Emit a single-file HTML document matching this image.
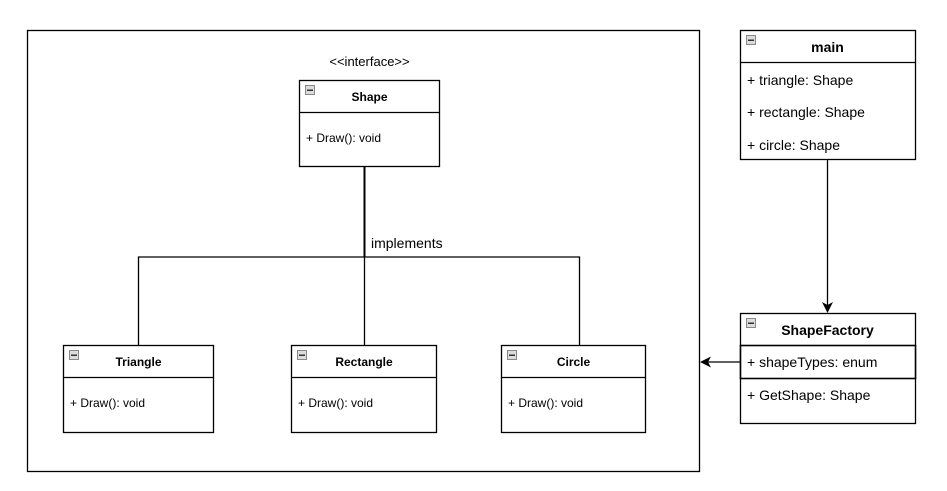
<!DOCTYPE html>
<html><head><meta charset="utf-8"><style>
html,body{margin:0;padding:0;background:#fff;}
svg{display:block;font-family:"Liberation Sans",Arial,sans-serif;}
</style></head><body>
<svg width="947" height="491" viewBox="0 0 947 491" xmlns="http://www.w3.org/2000/svg">
<defs>
<g id="ic"><rect x="0.5" y="0.5" width="9" height="9" fill="#dcdcdc" stroke="#888" stroke-width="1"/><rect x="2" y="4.5" width="6" height="1.5" fill="#333"/></g>
</defs>
<rect x="27.5" y="30.5" width="672" height="441" fill="#fff" stroke="#000" stroke-width="1.3"/>
<!-- connectors -->
<g stroke="#000" fill="none">
<line x1="364.5" y1="166" x2="364.5" y2="257" stroke-width="2"/>
<polyline points="138.5,345 138.5,257 579.5,257 579.5,345" stroke-width="1.3"/>
<line x1="364.5" y1="257" x2="364.5" y2="345" stroke-width="1.3"/>
<line x1="827.5" y1="159" x2="827.5" y2="305" stroke-width="1.3"/>
<line x1="740" y1="362" x2="708" y2="362" stroke-width="1.3"/>
</g>
<path d="M822,302 L827.5,313 L833,302 L827.5,305 Z" fill="#000"/>
<path d="M711,356.5 L700,362 L711,367.5 L708,362 Z" fill="#000"/>
<text x="371" y="248" font-size="14">implements</text>
<text x="369.5" y="66" font-size="13" text-anchor="middle">&lt;&lt;interface&gt;&gt;</text>
<g stroke="#000" stroke-width="1.3" fill="#fff">
<!-- Shape -->
<rect x="299.5" y="80.5" width="140" height="86"/><line x1="299.5" y1="112.5" x2="439.5" y2="112.5"/>
<!-- Triangle -->
<rect x="63.5" y="345.5" width="150" height="87"/><line x1="63.5" y1="377.5" x2="213.5" y2="377.5"/>
<rect x="291.5" y="345.5" width="145" height="87"/><line x1="291.5" y1="377.5" x2="436.5" y2="377.5"/>
<rect x="501.5" y="345.5" width="144" height="87"/><line x1="501.5" y1="377.5" x2="645.5" y2="377.5"/>
<rect x="740.5" y="30.5" width="175" height="129"/><line x1="740.5" y1="62.5" x2="915.5" y2="62.5"/>
<rect x="740.5" y="313.5" width="175" height="110"/>
<rect x="740.5" y="345.5" width="175" height="33" stroke-width="1.6"/>
</g>
<use href="#ic" x="305" y="85"/><use href="#ic" x="69" y="350"/><use href="#ic" x="297" y="350"/><use href="#ic" x="507" y="350"/><use href="#ic" x="746" y="35"/><use href="#ic" x="746" y="318"/>
<g font-size="12" font-weight="bold" text-anchor="middle">
<text x="369.5" y="101">Shape</text>
<text x="138.5" y="366">Triangle</text>
<text x="364" y="366">Rectangle</text>
<text x="573.5" y="366">Circle</text>
</g>
<g font-size="14" font-weight="bold" text-anchor="middle">
<text x="827.5" y="52">main</text>
<text x="827.5" y="335">ShapeFactory</text>
</g>
<g font-size="12">
<text x="306" y="142">+ Draw(): void</text>
<text x="70" y="407">+ Draw(): void</text>
<text x="298" y="407">+ Draw(): void</text>
<text x="508" y="407">+ Draw(): void</text>
</g>
<g font-size="14">
<text x="747" y="85">+ triangle: Shape</text>
<text x="747" y="117">+ rectangle: Shape</text>
<text x="747" y="150">+ circle: Shape</text>
<text x="747" y="367">+ shapeTypes: enum</text>
<text x="747" y="400">+ GetShape: Shape</text>
</g>
</svg>
</body></html>
